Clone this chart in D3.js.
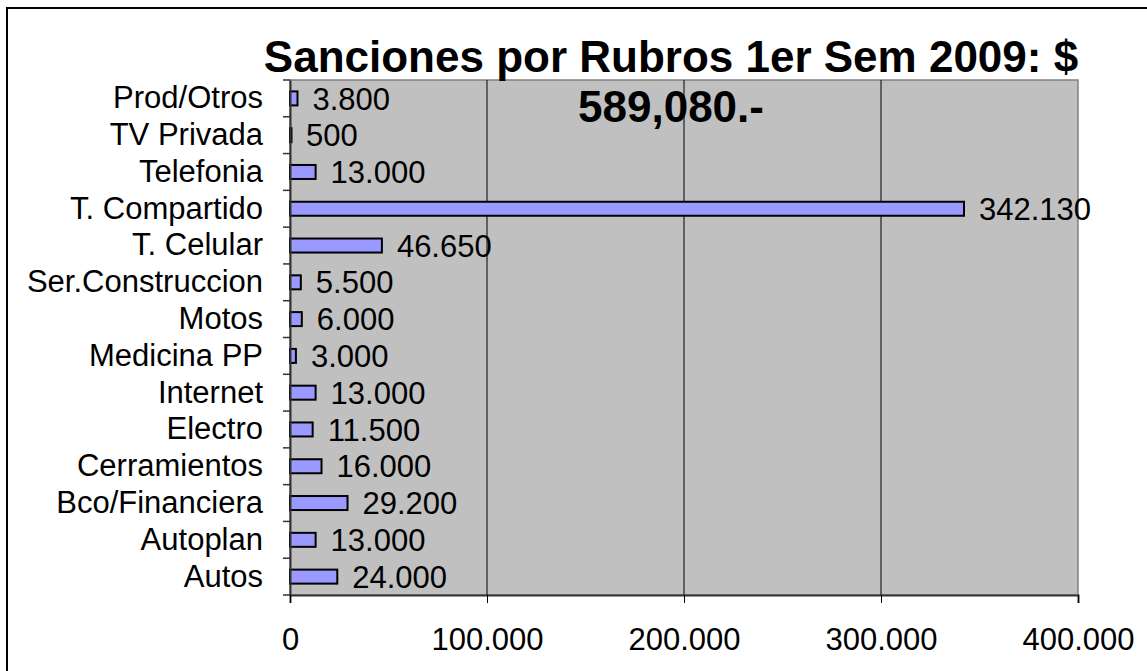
<!DOCTYPE html>
<html>
<head>
<meta charset="utf-8">
<style>
  body, html { margin: 0; background: #fff; }
  text { font-family: Arial, "Liberation Sans", sans-serif; fill: #000; }
</style>
<script src="https://cdn.jsdelivr.net/npm/d3@7"></script>
</head>
<body>
<svg id="chart" width="1147" height="671"></svg>
<script>
// categories listed top to bottom, as in the picture
var categories = ["Prod/Otros", "TV Privada", "Telefonia", "T. Compartido", "T. Celular",
  "Ser.Construccion", "Motos", "Medicina PP", "Internet", "Electro",
  "Cerramientos", "Bco/Financiera", "Autoplan", "Autos"];
var values = [3800, 500, 13000, 342130, 46650, 5500, 6000, 3000, 13000, 11500, 16000, 29200, 13000, 24000];
var xTicks = [0, 100000, 200000, 300000, 400000];
var titleLines = ["Sanciones por Rubros 1er Sem 2009: $", "589,080.-"];

var loc = d3.formatLocale({decimal: ",", thousands: ".", grouping: [3], currency: ["$", ""]});
var fmt = loc.format(",d");

var svg = d3.select("#chart");
var pLeft = 290, pRight = 1078, pTop = 80, pBottom = 595;

// outer frame
svg.append("rect").attr("x", 7).attr("y", 8).attr("width", 1160).attr("height", 700)
  .attr("fill", "none").attr("stroke", "#000").attr("stroke-width", 2);

var x = d3.scaleLinear().domain([0, 400000]).range([pLeft, pRight]);
var y = d3.scaleBand().domain(categories).range([pTop, pBottom]).paddingInner(0).paddingOuter(0);

// plot background
svg.append("rect").attr("x", pLeft).attr("y", pTop).attr("width", pRight - pLeft).attr("height", pBottom - pTop)
  .attr("fill", "#c0c0c0").attr("stroke", "#808080").attr("stroke-width", 1.5);

// gridlines
svg.selectAll(".grid").data(xTicks.slice(1, -1)).enter().append("line")
  .attr("x1", d => x(d)).attr("x2", d => x(d)).attr("y1", pTop).attr("y2", pBottom)
  .attr("stroke", "#000").attr("stroke-width", 1);

// bars
var barH = 14;
svg.selectAll(".bar").data(values).enter().append("rect")
  .attr("x", x(0))
  .attr("y", (d, i) => y(categories[i]) + y.bandwidth() / 2 - barH / 2)
  .attr("width", d => Math.max(x(d) - x(0), 1.5))
  .attr("height", barH)
  .attr("fill", "#9999ff").attr("stroke", "#000").attr("stroke-width", 2);

// value labels
svg.selectAll(".val").data(values).enter().append("text")
  .attr("x", d => x(d) + 15)
  .attr("y", (d, i) => y(categories[i]) + y.bandwidth() / 2)
  .attr("dy", "0.36em")
  .attr("font-size", 31)
  .text(d => fmt(d));

// y axis (category)
var yAxis = d3.axisLeft(y).tickSize(0).tickPadding(27);
var gy = svg.append("g").attr("transform", "translate(" + pLeft + ",0)").call(yAxis);
gy.select(".domain").attr("stroke", "#333").attr("stroke-width", 2);
gy.selectAll("text").attr("font-size", 31).attr("fill", "#000").attr("font-family", "Arial, 'Liberation Sans', sans-serif");
// tick marks at band edges
var edges = categories.map(c => y(c)).concat([pBottom]);
gy.selectAll(".edge").data(edges).enter().append("line")
  .attr("x1", -7).attr("x2", 0).attr("y1", d => d).attr("y2", d => d)
  .attr("stroke", "#333").attr("stroke-width", 1.5);

// x axis
var xAxis = d3.axisBottom(x).tickValues(xTicks).tickSize(8).tickPadding(25).tickFormat(fmt);
var gx = svg.append("g").attr("transform", "translate(0," + pBottom + ")").call(xAxis);
gx.select(".domain").attr("stroke", "#333").attr("stroke-width", 2);
gx.selectAll(".tick line").attr("stroke", "#000");
gx.selectAll("text").attr("font-size", 31).attr("fill", "#000").attr("font-family", "Arial, 'Liberation Sans', sans-serif");

// title
svg.selectAll(".title").data(titleLines).enter().append("text")
  .attr("x", 671).attr("y", (d, i) => 72 + i * 50)
  .attr("text-anchor", "middle").attr("font-size", 44).attr("font-weight", "bold")
  .text(d => d);
</script>
</body>
</html>
